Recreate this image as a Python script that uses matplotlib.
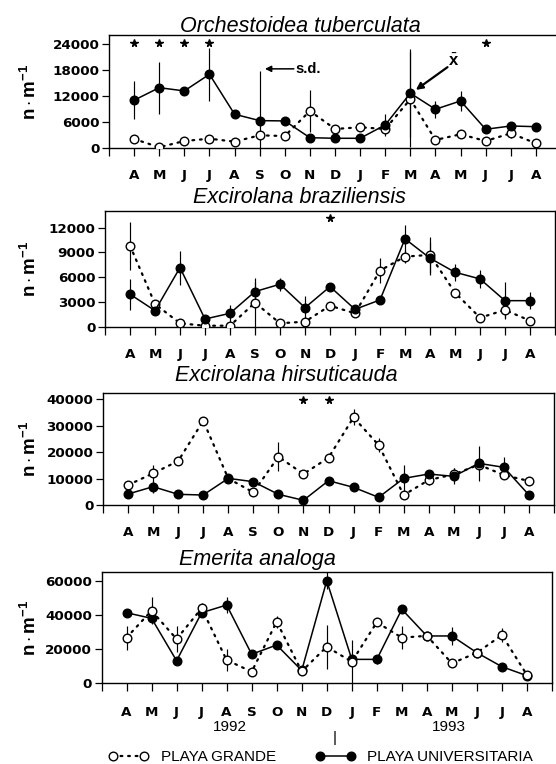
import matplotlib
matplotlib.use('Agg')
import matplotlib.pyplot as plt
import numpy as np

plt.rcParams['mathtext.fontset'] = 'custom'
plt.rcParams['mathtext.rm'] = 'Liberation Sans'
plt.rcParams['mathtext.bf'] = 'Liberation Sans:bold'
plt.rcParams['mathtext.it'] = 'Liberation Sans:italic'

# ---------------- data ----------------
months = ['A', 'M', 'J', 'J', 'A', 'S', 'O', 'N', 'D', 'J', 'F', 'M', 'A', 'M', 'J', 'J', 'A']
years = ['1992', '1993']
species = ['Orchestoidea tuberculata', 'Excirolana braziliensis',
           'Excirolana hirsuticauda', 'Emerita analoga']
series_names = ['PLAYA GRANDE', 'PLAYA UNIVERSITARIA']

# Orchestoidea tuberculata
orch_univ = [11000, 13900, 13150, 17000, 7750, 6270, 6200, 2320, 2180, 2180, 5270, 12620, 8900, 10830, 4270, 5030, 4870]
orch_univ_sd = [4400, 6000, 0, 6100, 0, 11600, 0, 0, 0, 0, 2600, 10200, 2000, 2400, 0, 0, 0]
orch_grande = [2020, 100, 1550, 2090, 1400, 2870, 2700, 8500, 4340, 4730, 4340, 11230, 1790, 3110, 1550, 3340, 1020]
orch_grande_sd = [0, 0, 0, 0, 0, 0, 500, 4800, 0, 0, 0, 11000, 0, 800, 0, 1200, 0]
orch_stars = [0, 1, 2, 3, 14]

# Excirolana braziliensis
braz_univ = [3930, 1940, 7150, 930, 1620, 4250, 5140, 2300, 4850, 2100, 3240, 10630, 8290, 6590, 5780, 3150, 3150]
braz_univ_sd = [1900, 0, 2050, 0, 1000, 1200, 800, 1400, 0, 0, 0, 1700, 2000, 1000, 1100, 2200, 1000]
braz_grande = [9820, 2750, 410, 120, 120, 2910, 410, 610, 2540, 1620, 6790, 8480, 8690, 4120, 1090, 2020, 730]
braz_grande_sd = [2900, 0, 0, 0, 0, 2950, 0, 0, 0, 300, 1500, 800, 2150, 0, 0, 1000, 0]
braz_stars = [8]

# Excirolana hirsuticauda
hirs_univ = [4150, 6920, 4030, 3770, 10060, 8800, 4030, 1770, 9180, 6670, 2900, 10060, 11700, 10820, 15730, 14230, 3770]
hirs_univ_sd = [0, 2200, 0, 0, 0, 0, 0, 0, 0, 0, 0, 5000, 0, 3000, 6500, 3800, 0]
hirs_grande = [7550, 11950, 16600, 31800, 10000, 4780, 18240, 11700, 17860, 33100, 22640, 3770, 9430, 11570, 15200, 11320, 9060]
hirs_grande_sd = [1500, 3100, 1000, 0, 0, 0, 5400, 0, 0, 3000, 2700, 0, 2000, 2500, 0, 0, 1500]
hirs_stars = [7, 8]

# Emerita analoga
emer_univ = [41300, 38000, 13200, 41300, 45800, 17000, 22400, 7500, 60000, 14000, 14000, 43300, 27700, 27700, 17900, 9700, 4450]
emer_univ_sd = [0, 0, 0, 0, 4800, 0, 0, 0, 4900, 0, 2500, 0, 0, 5400, 0, 0, 0]
emer_grande = [26700, 42500, 25900, 43900, 13600, 6800, 36000, 7000, 21400, 12600, 35700, 26700, 27800, 11700, 17900, 28200, 4850]
emer_grande_sd = [7000, 8000, 7500, 3000, 6500, 0, 3500, 0, 13000, 12700, 0, 6800, 0, 0, 0, 4000, 0]
emer_stars = []

yticks_list = [[0, 6000, 12000, 18000, 24000],
               [0, 3000, 6000, 9000, 12000],
               [0, 10000, 20000, 30000, 40000],
               [0, 20000, 40000, 60000]]
ylims = [26100, 14000, 42300, 65300]
star_levels = [24200, 13100, 39600, 0]

panels = [
    (orch_univ, orch_univ_sd, orch_grande, orch_grande_sd, orch_stars),
    (braz_univ, braz_univ_sd, braz_grande, braz_grande_sd, braz_stars),
    (hirs_univ, hirs_univ_sd, hirs_grande, hirs_grande_sd, hirs_stars),
    (emer_univ, emer_univ_sd, emer_grande, emer_grande_sd, emer_stars),
]

# ---------------- layout (pixels) ----------------
W, H = 556, 764
fig = plt.figure(figsize=(W / 100, H / 100), dpi=100)
fig.patch.set_facecolor('white')

# left, right, top, bottom in pixels
boxes = [(109, 561, 35, 147.7),
         (105, 555, 211, 326.7),
         (103, 554, 393, 505),
         (101.5, 552, 571.7, 683.3)]
title_pos = [(300, 31.5), (299, 203), (286, 380.5), (257, 565)]
xpads = [9.0, 9.0, 9.0, 10.5]
open_on_top = [False, False, False, True]

x = np.arange(len(months))
tick_font = dict(family='DejaVu Sans', weight='bold', size=9.7)

lines_for_legend = None
axes = []
for i, (univ, univ_sd, grande, grande_sd, stars) in enumerate(panels):
    l, r, t, b = boxes[i]
    ax = fig.add_axes([l / W, 1 - b / H, (r - l) / W, (b - t) / H])
    axes.append(ax)
    ax.set_xlim(-1, 17)
    ax.set_ylim(0, ylims[i])

    univ = np.array(univ, float)
    grande = np.array(grande, float)
    usd = np.array(univ_sd, float)
    gsd = np.array(grande_sd, float)

    zo_open, zo_fill = (5, 4) if open_on_top[i] else (4, 5)

    m = usd > 0
    ax.errorbar(x[m], univ[m], yerr=usd[m], fmt='none', ecolor='black',
                elinewidth=0.85, capsize=0, zorder=3)
    m = gsd > 0
    ax.errorbar(x[m], grande[m], yerr=gsd[m], fmt='none', ecolor='black',
                elinewidth=0.85, capsize=0, zorder=3)

    lg, = ax.plot(x, grande, color='black', lw=1.6, linestyle=(0, (0.8, 2.6)),
                  dash_capstyle='round', marker='o', ms=6.2, mfc='white',
                  mec='black', mew=1.0, zorder=zo_open)
    lu, = ax.plot(x, univ, color='black', lw=1.1, linestyle='-',
                  marker='o', ms=6.2, mfc='black', mec='black', zorder=zo_fill)
    if i == 3:
        lines_for_legend = (lg, lu)

    if stars:
        ax.plot(stars, [star_levels[i]] * len(stars), ls='none', marker='*',
                ms=5.5, color='black', zorder=6)

    ax.set_xticks(np.arange(-1, 18))
    ax.set_xticklabels([''] + months + [''], fontdict=tick_font)
    ax.set_yticks(yticks_list[i])
    ax.set_yticklabels([str(v) for v in yticks_list[i]], fontdict=tick_font)
    ax.tick_params(axis='x', direction='out', length=6, width=0.9, pad=xpads[i],
                   top=False)
    ax.tick_params(axis='y', direction='out', length=5, width=0.9, pad=2,
                   right=False)
    for s in ax.spines.values():
        s.set_linewidth(1.0)

    tx, ty = title_pos[i]
    fig.text(tx / W, 1 - ty / H, species[i], ha='center', va='baseline',
             family='Liberation Sans', style='italic', fontsize=15.5)
    fig.text(30 / W, 1 - ((t + b) / 2) / H, r'$\mathbf{n\cdot m^{-1}}$',
             rotation=90, ha='center', va='center', fontsize=13.5)

# annotations on first panel
ax0 = axes[0]
ax0.annotate('', xy=(5.21, 18260), xytext=(6.36, 18260),
             arrowprops=dict(arrowstyle='-|>', color='black', lw=1.1,
                             mutation_scale=9, shrinkA=0, shrinkB=0))
ax0.text(6.42, 18260, 's.d.', ha='left', va='center',
         family='Liberation Sans', weight='bold', fontsize=10.5)
ax0.annotate('', xy=(11.22, 13390), xytext=(12.48, 18650),
             arrowprops=dict(arrowstyle='-|>', color='black', lw=1.6,
                             mutation_scale=10, shrinkA=0, shrinkB=0))
ax0.text(12.72, 20100, r'$\bar{\mathbf{x}}$', ha='center', va='center',
         fontsize=12)

# years under last panel
fig.text(230 / W, 1 - 727 / H, years[0], ha='center', va='center',
         family='Liberation Sans', fontsize=11)
fig.text(449 / W, 1 - 727 / H, years[1], ha='center', va='center',
         family='Liberation Sans', fontsize=11)
fig.text(335 / W, 1 - 738 / H, '|', ha='center', va='center',
         family='Liberation Sans', fontsize=11)

fig.legend(lines_for_legend, series_names, loc='center',
           bbox_to_anchor=(321 / W, 1 - 757 / H), ncol=2, frameon=False,
           numpoints=2, handlelength=2.6, handletextpad=0.8,
           columnspacing=2.6, prop={'family': 'Liberation Sans', 'size': 11},
           borderpad=0.1)

fig.savefig('out.png', dpi=100, facecolor='white')
